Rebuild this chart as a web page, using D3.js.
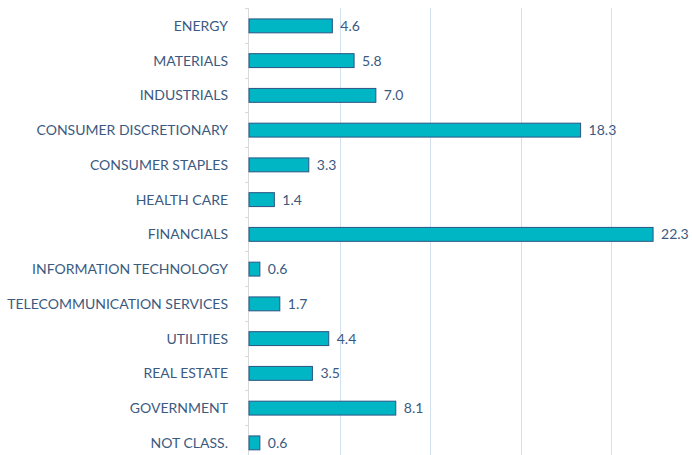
<!DOCTYPE html>
<html>
<head>
<meta charset="utf-8">
<script src="https://cdn.jsdelivr.net/npm/d3@7"></script>
<style>
  body { margin: 0; background: #fff; }
  text { font-family: "Lato", "DejaVu Sans", sans-serif; fill: #3b5a7f; }
</style>
</head>
<body>
<div id="chart"></div>
<script>
let sectors = ["ENERGY", "MATERIALS", "INDUSTRIALS", "CONSUMER DISCRETIONARY", "CONSUMER STAPLES",
  "HEALTH CARE", "FINANCIALS", "INFORMATION TECHNOLOGY", "TELECOMMUNICATION SERVICES",
  "UTILITIES", "REAL ESTATE", "GOVERNMENT", "NOT CLASS."];
let weights = [4.6, 5.8, 7.0, 18.3, 3.3, 1.4, 22.3, 0.6, 1.7, 4.4, 3.5, 8.1, 0.6];
let xTicks = [0, 5, 10, 15, 20, 25];

let width = 692, height = 455;
let margin = {top: 8, left: 249, right: 0, bottom: 0};

let svg = d3.select("#chart").append("svg").attr("width", width).attr("height", height);

let x = d3.scaleLinear().domain([0, 25]).range([margin.left, margin.left + 453]);
let y = d3.scaleBand().domain(sectors).range([margin.top + 0.5, margin.top + 0.5 + 13 * 34.75]).paddingInner(0.6).paddingOuter(0.3);

// gridlines
svg.append("g").selectAll("line").data(xTicks.slice(1)).enter().append("line")
  .attr("x1", d => Math.round(x(d)) + 0.5).attr("x2", d => Math.round(x(d)) + 0.5)
  .attr("y1", margin.top).attr("y2", height)
  .attr("stroke", "#d3e0ee").attr("stroke-width", 1);

// category axis with ticks on band boundaries
let axisG = svg.append("g");
axisG.append("line")
  .attr("x1", margin.left - 0.5).attr("x2", margin.left - 0.5)
  .attr("y1", margin.top).attr("y2", height)
  .attr("stroke", "#d9d9d9");
let bounds = d3.range(sectors.length + 1).map(i => margin.top + i * y.step());
axisG.selectAll(".tk").data(bounds).enter().append("line")
  .attr("x1", margin.left - 4).attr("x2", margin.left)
  .attr("y1", d => Math.round(d) + 0.5).attr("y2", d => Math.round(d) + 0.5)
  .attr("stroke", "#d9d9d9");

axisG.selectAll(".lbl").data(sectors).enter().append("text")
  .attr("x", margin.left - 21)
  .attr("y", d => y(d) + y.bandwidth() / 2)
  .attr("dy", "0.35em")
  .attr("text-anchor", "end")
  .attr("font-size", "14px")
  .text(d => d);

// bars
svg.append("g").selectAll("rect").data(weights).enter().append("rect")
  .attr("x", x(0))
  .attr("y", (d, i) => y(sectors[i]))
  .attr("width", d => x(d) - x(0))
  .attr("height", y.bandwidth())
  .attr("fill", "#00b5c4")
  .attr("stroke", "#2b5584")
  .attr("stroke-width", 1);

// value labels
svg.append("g").selectAll("text").data(weights).enter().append("text")
  .attr("x", d => x(d) + 8)
  .attr("y", (d, i) => y(sectors[i]) + y.bandwidth() / 2)
  .attr("dy", "0.35em")
  .attr("font-size", "14px")
  .text(d => d.toFixed(1));
</script>
</body>
</html>
